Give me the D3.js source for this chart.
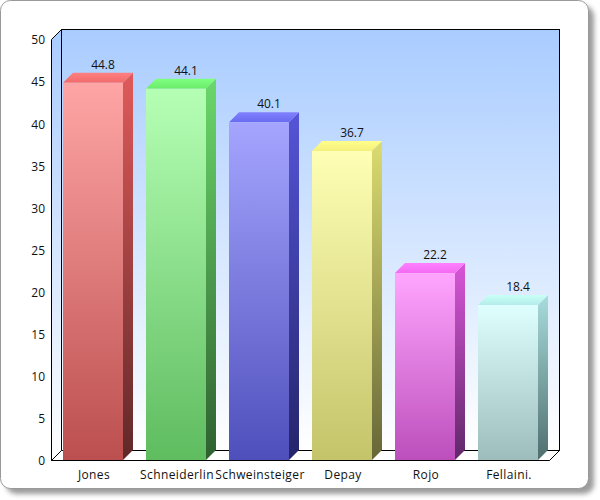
<!DOCTYPE html>
<html><head><meta charset="utf-8">
<script src="https://cdn.jsdelivr.net/npm/d3@7/dist/d3.min.js"></script>
<style>html,body{margin:0;padding:0;background:#fff}svg{display:block}text{font-family:"Open Sans",sans-serif;font-size:12px;fill:#111}</style>
</head><body><div id="c"></div>
<script>
const players=["Jones","Schneiderlin","Schweinsteiger","Depay","Rojo","Fellaini."];
const values=[44.8,44.1,40.1,36.7,22.2,18.4];
const frontTop=["#ffa5a5","#b5ffb5","#a5a5ff","#ffffb5","#ffa5ff","#dfffff"];
const frontBottom=["#bc4f4f","#5fbc5f","#4f4fbc","#c4c46a","#bc4fbc","#9dbdbd"];
const capBack=["#ff8080","#80ff80","#8080ff","#ffff8c","#ff80ff","#c8fff6"];
const capFront=["#f26a6a","#6aec6a","#6a6af0","#f5f07c","#f26af2","#b4ecea"];
const sideTop=["#e05a5a","#6ad86a","#5555d8","#dcdc70","#d855d8","#a8dcdc"];
const sideBottom=["#602828","#2f6030","#24246a","#666638","#602868","#4f6e6e"];
const yTicks=[0,5,10,15,20,25,30,35,40,45,50];
const W=600,H=500,dx=10,dy=-10;
const svg=d3.select("#c").append("svg").attr("width",W).attr("height",H);
const defs=svg.append("defs");
const gradient=(id,a,b)=>{const l=defs.append("linearGradient").attr("id",id).attr("x1",0).attr("x2",0).attr("y1",0).attr("y2",1);
  l.append("stop").attr("offset",0).attr("stop-color",a);l.append("stop").attr("offset",1).attr("stop-color",b);};
gradient("bg","#a9ccff","#ffffff");
const blur=defs.append("filter").attr("id","sh").attr("x","-5%").attr("y","-5%").attr("width","110%").attr("height","110%");
blur.append("feGaussianBlur").attr("stdDeviation",2.5);
svg.append("rect").attr("x",6).attr("y",6).attr("width",588).attr("height",488).attr("rx",10).attr("fill","#666").attr("opacity",.65).attr("filter","url(#sh)");
svg.append("rect").attr("x",.5).attr("y",.5).attr("width",588).attr("height",488).attr("rx",10).attr("fill","#fff").attr("stroke","#999").attr("stroke-width",1);
const y=d3.scaleLinear().domain([0,50]).range([460,39]);
const band=d3.scaleBand().domain(players).range([51.5,549.5]).paddingInner(23/83).paddingOuter(11.5/83);
const fx=y(0)+.5, tx=y(50)+.5, L=51.5, R=550.5;
const wall=svg.append("g");
wall.append("rect").attr("x",L+dx).attr("y",tx+dy).attr("width",R-L-1).attr("height",fx-tx).attr("fill","url(#bg)").attr("stroke","#000");
wall.append("path").attr("d",`M${L},${tx}L${L+dx},${tx+dy}L${L+dx},${fx+dy}L${L},${fx}Z`).attr("fill","url(#bg)").attr("stroke","#000");
wall.append("path").attr("d",`M${L},${fx}L${L+dx},${fx+dy}L${R+dx-1},${fx+dy}L${R-1},${fx}Z`).attr("fill","#fff").attr("stroke","#000");
players.forEach((p,i)=>{
  gradient("f"+i,frontTop[i],frontBottom[i]);
  gradient("s"+i,sideTop[i],sideBottom[i]);
  gradient("c"+i,capBack[i],capFront[i]);
  const xa=Math.round(band(p)),xb=xa+Math.round(band.bandwidth()),yt=y(values[i]),yb=y(0);
  const s=svg.append("g");
  s.append("path").attr("d",`M${xb},${yt}L${xb+dx},${yt+dy}L${xb+dx},${yb+dy}L${xb},${yb}Z`).attr("fill",`url(#s${i})`);
  s.append("path").attr("d",`M${xa},${yt}L${xa+dx},${yt+dy}L${xb+dx},${yt+dy}L${xb},${yt}Z`).attr("fill",`url(#c${i})`);
  s.append("rect").attr("x",xa).attr("y",yt).attr("width",xb-xa).attr("height",yb-yt).attr("fill",`url(#f${i})`);
  s.append("text").attr("x",(xa+xb)/2+dx).attr("y",yt+dy-4).attr("text-anchor","middle").text(values[i]);
  svg.append("text").attr("x",(xa+xb)/2+1).attr("y",479).attr("text-anchor","middle").attr("letter-spacing",".38").text(p);
});
svg.append("path").attr("d",`M${L},${fx}H${R-1}`).attr("stroke","#000").attr("fill","none");
const ax=d3.axisLeft(y).tickValues(yTicks).tickSize(0).tickPadding(0);
const ag=svg.append("g").attr("transform",`translate(45,1)`).call(ax);
ag.select(".domain").remove();
ag.selectAll("text").style("font-family",'"Open Sans",sans-serif').style("font-size","12px").attr("fill","#111");
</script></body></html>
